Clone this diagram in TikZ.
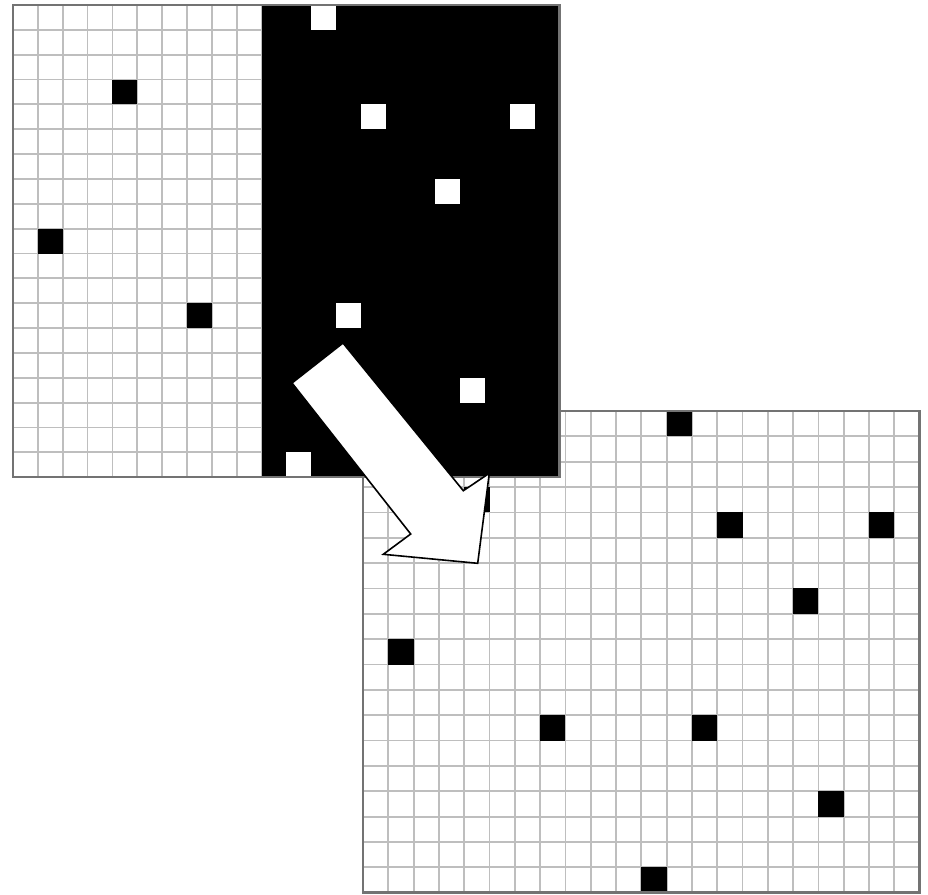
\documentclass[tikz,border=0pt]{standalone}
\begin{document}
\begin{tikzpicture}[x=0.75pt,y=-0.75pt]
\definecolor{gridgray}{RGB}{190,190,190}
\definecolor{framegray}{RGB}{115,115,115}
\tikzset{
  gridline/.style={draw=gridgray,line width=1.35pt},
  frame/.style={draw=framegray,line width=2pt},
  arrowshape/.style={fill=white,draw=black,line width=1.2pt,line join=miter}
}
\fill[white] (0,0) rectangle (928,895);
\useasboundingbox (0,0) rectangle (928,895);

% ---------- bottom-right grid ----------
\def\bx{363}\def\by{411}\def\bw{25.3}\def\bh{25.35}
\fill[white] (\bx,\by) rectangle ({\bx+22*\bw},{\by+19*\bh});
\foreach \i in {1,...,21} \draw[gridline] ({\bx+\i*\bw},\by) -- ({\bx+\i*\bw},{\by+19*\bh});
\foreach \j in {1,...,18} \draw[gridline] (\bx,{\by+\j*\bh}) -- ({\bx+22*\bw},{\by+\j*\bh});
\foreach \c/\r in {4/3,1/9,7/12,12/0,14/4,20/4,17/7,13/12,18/15,11/18}
  \fill[black] ({\bx+\c*\bw},{\by+\r*\bh}) rectangle ++(\bw,\bh);
\draw[frame] (\bx,\by) rectangle ({\bx+22*\bw},{\by+19*\bh});

% ---------- top-left grid ----------
\def\ax{13}\def\ay{5}\def\ac{24.85}
\fill[white] (\ax,\ay) rectangle ({\ax+22*\ac},{\ay+19*\ac});
\foreach \i in {1,...,10} \draw[gridline] ({\ax+\i*\ac},\ay) -- ({\ax+\i*\ac},{\ay+19*\ac});
\foreach \j in {1,...,18} \draw[gridline] (\ax,{\ay+\j*\ac}) -- ({\ax+10*\ac},{\ay+\j*\ac});
\fill[black] ({\ax+10*\ac},\ay) rectangle ({\ax+22*\ac},{\ay+19*\ac});
\foreach \c/\r in {12/0,14/4,20/4,17/7,13/12,18/15,11/18}
  \fill[white] ({\ax+\c*\ac},{\ay+\r*\ac}) rectangle ++(\ac,\ac);
\foreach \c/\r in {4/3,1/9,7/12}
  \fill[black] ({\ax+\c*\ac},{\ay+\r*\ac}) rectangle ++(\ac,\ac);
\draw[frame] (\ax,\ay) rectangle ({\ax+22*\ac},{\ay+19*\ac});

% ---------- block arrow ----------
\coordinate (tl) at (292,383);
\coordinate (sl) at (410.7,534);
\coordinate (bl) at (383.3,554.3);
\coordinate (tip) at (477.7,563.3);
\coordinate (br) at (489.3,473.3);
\coordinate (sr) at (463.3,490.7);
\coordinate (tr) at (343,343);
\draw[arrowshape] (tl) -- (sl) -- (bl) -- (tip) -- (br) -- (sr) -- (tr) -- cycle;
\end{tikzpicture}
\end{document}
